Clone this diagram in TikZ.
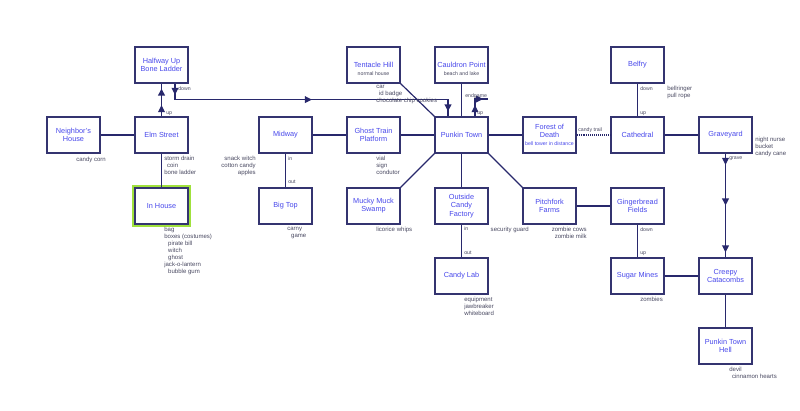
\documentclass[tikz,border=0pt]{standalone}
\usepackage{fontspec}
\setmainfont{Liberation Sans}
\usetikzlibrary{arrows.meta,calc,decorations.markings}
\definecolor{roomtext}{RGB}{72,72,235}
\definecolor{roomline}{RGB}{52,52,112}
\definecolor{wirecol}{RGB}{40,40,108}
\definecolor{notetext}{RGB}{72,72,96}
\definecolor{lime}{RGB}{160,225,60}

\begin{document}
\begin{tikzpicture}[x=0.025cm,y=-0.025cm,
    room/.style={rectangle,draw=roomline,fill=white,line width=0.85pt,minimum width=1.325cm,minimum height=0.9cm,inner sep=0pt,align=center,text=roomtext,font=\fontsize{5.2}{5.8}\selectfont},
    current/.style={preaction={draw=lime,line width=4pt}},
    note/.style={inner sep=0pt,align=left,anchor=north west,text=notetext,font=\fontsize{4.3}{5}\selectfont},
    rnote/.style={note,align=right,anchor=north east},
    tag/.style={inner sep=0pt,anchor=north west,text=notetext,font=\fontsize{3.7}{4.2}\selectfont},
    innote/.style={inner sep=0pt,text=notetext,font=\fontsize{3.7}{4.2}\selectfont},
    wire/.style={draw=wirecol,color=wirecol,line width=0.85pt},
    trail/.style={wire,dash pattern=on 0.7pt off 0.7pt},
    >={Triangle[length=5pt,width=4.8pt]},
    shortway/.style={wire,postaction={decorate},decoration={markings,
        mark=at position 8pt with {\arrow{>}},
        mark=at position -3.5pt with {\arrow{>}}}},
    oneway/.style={wire,postaction={decorate},decoration={markings,
        mark=at position 8pt with {\arrow{>}},
        mark=at position 0.5 with {\arrow{>}},
        mark=at position -3.5pt with {\arrow{>}}}}]
      \useasboundingbox (0,0) rectangle (800,411);

      \node at (161.5,65)  [room] (halfway)   {Halfway Up\\Bone Ladder};
      \node at (373.5,65)  [room] (tentacle)  {Tentacle Hill};
      \node at (461.5,65)  [room] (cauldron)  {Cauldron Point};
      \node at (637.5,65)  [room] (belfry)    {Belfry};
      \node at (373.5,74)  [innote] (tentaclenote) {normal house};
      \node at (461.5,74)  [innote] (cauldronnote) {beach and lake};

      \node at (73.5,135)  [room] (neighbor)  {Neighbor's\\House};
      \node at (161.5,135) [room] (elm)       {Elm Street};
      \node at (285.5,135) [room] (midway)    {Midway};
      \node at (373.5,135) [room] (ghost)     {Ghost Train\\Platform};
      \node at (461.5,135) [room] (punkin)    {Punkin Town};
      \node at (549.5,135) [room] (forest)    {Forest of\\Death\\{\fontsize{3.7}{4.2}\selectfont bell tower in distance}};
      \node at (637.5,135) [room] (cathedral) {Cathedral};
      \node at (725.5,135) [room] (graveyard) {Graveyard};

      \node at (161.5,206) [room,current] (inhouse) {In House};
      \node at (285.5,206) [room] (bigtop)    {Big Top};
      \node at (373.5,206) [room] (mucky)     {Mucky Muck\\Swamp};
      \node at (461.5,206) [room] (factory)   {Outside\\Candy\\Factory};
      \node at (549.5,206) [room] (pitchfork) {Pitchfork\\Farms};
      \node at (637.5,206) [room] (ginger)    {Gingerbread\\Fields};

      \node at (461.5,276) [room] (candylab)  {Candy Lab};
      \node at (637.5,276) [room] (sugar)     {Sugar Mines};
      \node at (725.5,276) [room] (catacombs) {Creepy\\Catacombs};
      \node at (725.5,346) [room] (hell)      {Punkin Town\\Hell};

      \coordinate (endgame) at (488,99);

      \draw[wire] (neighbor) -- (elm);
      \draw[wire] (elm)      -- (inhouse);
      \draw[wire] (midway)   -- (ghost);
      \draw[wire] (midway)   -- (bigtop);
      \draw[wire] (ghost)    -- (punkin);
      \draw[wire] (tentacle.south east) -- (punkin.north west);
      \draw[wire] (cauldron) -- (punkin);
      \draw[wire] (punkin)   -- (forest);
      \draw[wire] (punkin.south west) -- (mucky.north east);
      \draw[wire] (punkin)   -- (factory);
      \draw[wire] (punkin.south east) -- (pitchfork.north west);
      \draw[wire] (factory)  -- (candylab);
      \draw[wire] (pitchfork) -- (ginger);
      \draw[trail] (forest)  -- (cathedral);
      \draw[wire] (belfry)   -- (cathedral);
      \draw[wire] (cathedral) -- (graveyard);
      \draw[wire] (ginger)   -- (sugar);
      \draw[wire] (sugar)    -- (catacombs);
      \draw[wire] (catacombs) -- (hell);

      \draw[shortway] (elm) -- (halfway);
      \draw[oneway] ($(halfway.south)+(13.5,0)$) -- ++(0,16) -| ($(punkin.north)+(-13.5,0)$);
      \draw[shortway] ($(punkin.north)+(13.5,0)$) |- (endgame);
      \draw[oneway] (graveyard) -- (catacombs);

      \node at (178,86)   [tag] (hwdown)     {down};
      \node at (166,111)  [tag] (elmup)      {up};
      \node at (288,156)  [tag] (midin)      {in};
      \node at (288,180)  [tag] (bigout)     {out};
      \node at (465,93)   [tag] (endlabel)   {endgame};
      \node at (477,111)  [tag] (punkinup)   {up};
      \node at (464,226)  [tag] (factoryin)  {in};
      \node at (464,251)  [tag] (labout)     {out};
      \node at (578,127)  [tag] (trailtag)   {candy trail};
      \node at (640,86)   [tag] (belfrydown) {down};
      \node at (640,111)  [tag] (cathup)     {up};
      \node at (729,156)  [tag] (gravetag)   {grave};
      \node at (640,227)  [tag] (gingerdown) {down};
      \node at (640,251)  [tag] (sugarup)    {up};

      \node at (76,156.5)  [note]  (neighbornote)  {candy corn};
      \node at (164,155.5) [note]  (elmnote)       {storm drain\\\hspace*{2pt}coin\\bone ladder};
      \node at (256,155.5) [rnote] (midwaynote)    {snack witch\\cotton candy\\apples};
      \node at (164,226.5) [note]  (inhousenote)   {bag\\boxes (costumes)\\\hspace*{2.8pt}pirate bill\\\hspace*{2.8pt}witch\\\hspace*{2.8pt}ghost\\jack-o-lantern\\\hspace*{2.8pt}bubble gum};
      \node at (287,226.5) [note]  (bigtopnote)    {carny\\\hspace*{2.8pt}game};
      \node at (376,84.5)  [note]  (tentaclelist)  {car\\\hspace*{2pt}id badge\\chocolate chip cookies};
      \node at (376,155.5) [note]  (ghostnote)     {vial\\sign\\condutor};
      \node at (376,226.5) [note]  (muckynote)     {licorice whips};
      \node at (529,226.5) [rnote] (guardnote)     {security guard};
      \node at (587,226.5) [rnote] (pitchforknote) {zombie cows\\zombie milk};
      \node at (464,296.5) [note]  (candylabnote)  {equipment\\jawbreaker\\whiteboard};
      \node at (667,85.5)  [note]  (belfrynote)    {bellringer\\pull rope};
      \node at (755,136.5) [note]  (graveyardnote) {night nurse\\bucket\\candy cane};
      \node at (640,296.5) [note]  (sugarnote)     {zombies};
      \node at (729,366.5) [note]  (hellnote)      {devil\\\hspace*{2pt}cinnamon hearts};
    \end{tikzpicture}
\end{document}
